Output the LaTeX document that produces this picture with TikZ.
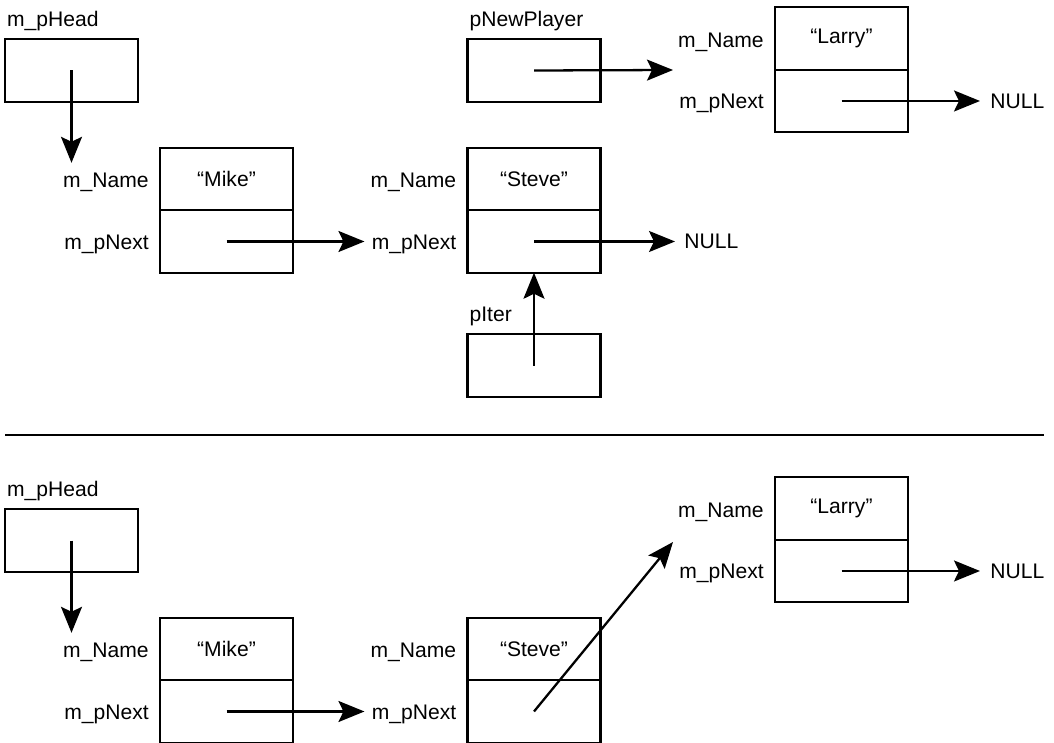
\documentclass[tikz,border=0pt]{standalone}
\usepackage{fontspec}
\setmainfont{Liberation Sans}
\usepackage{tikz}
\usetikzlibrary{positioning, arrows.meta, calc}

\begin{document}
\begin{tikzpicture}[x=0.02cm, y=-0.02cm]
	\tikzset{
		cell/.style={draw, line width=1.4pt, minimum width=2.66cm, minimum height=1.25cm, outer sep=0pt, inner sep=0pt, font=\fontsize{12}{14}\selectfont},
		ptrbox/.style={draw, line width=1.4pt, minimum width=2.66cm, minimum height=1.26cm, inner sep=0pt},
		field/.style={inner sep=0pt, font=\fontsize{12}{14}\selectfont},
		ptr/.style={line width=1.3pt, -{Stealth[length=0.52cm, width=0.42cm, inset=0.1cm]}},
		sep/.style={line width=1.6pt}
	}
	\useasboundingbox (0,0) rectangle (1054,743);
	% records: name cell on top, next cell below
	\foreach \r/\who/\x/\y in {mikeA/Mike/226.5/179, steveA/Steve/534/179, larryA/Larry/841.5/38.5,
		mikeB/Mike/226.5/649, steveB/Steve/534/649, larryB/Larry/841.5/508.5} {
		\node[cell] (\r-name) at (\x,\y) {\raisebox{-1pt}{“\who”}};
		\node[cell, below=0pt of \r-name] (\r-next) {};
		\node[field, left=0.22cm of \r-name, yshift=-0.07cm] (\r-nlbl) {m\_Name};
		\node[field, left=0.22cm of \r-next, yshift=-0.05cm] (\r-plbl) {m\_pNext};
	}
	% pointer variables
	\foreach \p/\txt/\x/\y in {headA/m\_pHead/71.5/70.5, newp/pNewPlayer/534/70.5, iter/pIter/534/365.5, headB/m\_pHead/71.5/540.5} {
		\node[ptrbox] (\p) at (\x,\y) {};
		\node[field, anchor=base west] (\p-lbl) at ([shift={(3,-11)}]\p.north west) {\txt};
	}
	\node[field, anchor=west] (nullA) at (steveA-next.center -| 684,0) {NULL};
	\node[field, anchor=west] (nullL) at (larryA-next.center -| 990,0) {NULL};
	\node[field, anchor=west] (nullB) at (larryB-next.center -| 990,0) {NULL};
	\coordinate (larryA-in) at (673,70);
	\coordinate (larryB-in) at (673,542);

	% before
	\draw[ptr, shorten >=0.2cm] (headA.center) -- (headA.center |- mikeA-nlbl.north);
	\draw[ptr, shorten >=0.14cm] (mikeA-next.center) -- (mikeA-next.center -| steveA-plbl.west);
	\draw[ptr, shorten >=0.18cm] (steveA-next.center) -- (nullA.west);
	\draw[ptr] (iter.center) -- (steveA-next.south);
	\draw[ptr] (newp.center) -- (larryA-in);
	\draw[ptr, shorten >=0.2cm] (larryA-next.center) -- (nullL.west);

	\draw[sep] (5,435) -- (1044,435);

	% after
	\draw[ptr, shorten >=0.2cm] (headB.center) -- (headB.center |- mikeB-nlbl.north);
	\draw[ptr, shorten >=0.14cm] (mikeB-next.center) -- (mikeB-next.center -| steveB-plbl.west);
	\draw[ptr] (steveB-next.center) -- (larryB-in);
	\draw[ptr, shorten >=0.2cm] (larryB-next.center) -- (nullB.west);
\end{tikzpicture}
\end{document}
